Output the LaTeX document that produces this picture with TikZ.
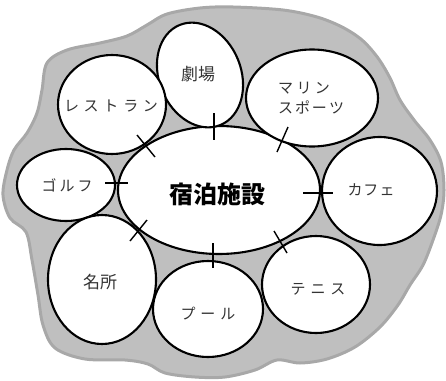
\documentclass[tikz,border=0pt]{standalone}
\usepackage{fontspec}
\newfontfamily\jp{Noto Sans CJK JP}
\usetikzlibrary{shapes.geometric}
\newcommand\kk[1]{\kern#1pt}
\tikzset{
  bubble/.style={ellipse, draw=black, line width=2.1pt, fill=white, inner sep=0pt},
  kanjilabel/.style={font=\jp\fontsize{17}{20}\selectfont, text=black!80, inner sep=0pt},
  kanalabel/.style={font=\jp\fontsize{15}{20}\selectfont, text=black!80, inner sep=0pt},
  tickmark/.style={line width=1.4pt, black},
  blob/.style={fill=gray!50, draw=gray!68, line width=3pt},
}
\begin{document}
\begin{tikzpicture}[x=1pt,y=-1pt]
\useasboundingbox (0,0) rectangle (446,380);
% grey background blob
\path[blob] plot[smooth cycle, tension=0.55] coordinates {
 (47,63) (67,50) (100,43) (127,36) (147,25) (167,14) (200,8) (233,7) (283,10)
 (317,17) (342,27) (362,40) (378,58) (390,78) (400,100) (414,120) (430,140)
 (441,162) (444,190) (441,215) (433,240) (423,265) (410,285) (398,305) (380,327)
 (355,347) (327,359) (300,363) (277,360) (255,370) (225,377) (195,377) (165,373)
 (148,364) (125,360) (85,359) (55,348) (43,325) (38,295) (32,260) (26,232)
 (10,218) (3,195) (7,170) (14,150) (27,133) (37,113) (42,90)};
% ellipses
\node[bubble, minimum width=202pt, minimum height=128pt] (hotel) at (219,190) {};
\node[bubble, minimum width=82pt, minimum height=108pt, rotate=22] (theater) at (200,75) {};
\node[bubble, minimum width=108pt, minimum height=99pt] (restaurant) at (112,104.5) {};
\node[bubble, minimum width=132pt, minimum height=97pt] (marine) at (312,98) {};
\node[bubble, minimum width=98pt, minimum height=72pt] (golf) at (66,185) {};
\node[bubble, minimum width=115pt, minimum height=108pt] (cafe) at (379.5,191) {};
\node[bubble, minimum width=108pt, minimum height=129pt] (sight) at (102,279.5) {};
\node[bubble, minimum width=110pt, minimum height=96pt] (pool) at (208,309) {};
\node[bubble, minimum width=108pt, minimum height=97pt] (tennis) at (316,284.5) {};
% labels
\node[font=\jp\bfseries\fontsize{24}{26}\selectfont, inner sep=0pt] (hotel-t) at (217,194) {宿泊施設};
\node[kanjilabel] (theater-t) at (198,74) {劇場};
\node[kanalabel] (restaurant-t) at (111,106) {レ\kk{4.75}ス\kk{4.75}ト\kk{4.75}ラ\kk{4.75}ン};
\node[kanalabel, align=left] (marine-t) at (311,98) {マ\kk{3.5}リ\kk{3.5}ン\\ス\kk{2}ポ\kk{2}ー\kk{2}ツ};
\node[kanalabel] (golf-t) at (67,185) {ゴ\kk{3}ル\kk{3}フ};
\node[kanalabel] (cafe-t) at (371,190) {カ\kk{1}フ\kk{1}ェ};
\node[kanjilabel] (sight-t) at (100,282) {名所};
\node[kanalabel] (pool-t) at (208,314) {プ\kk{5}ー\kk{5}ル};
\node[kanalabel] (tennis-t) at (318,289) {テ\kk{5}ニ\kk{5}ス};
% tick marks at the points of contact
\draw[tickmark] (214,113) -- (214,140);
\draw[tickmark] (137,135) -- (155,157);
\draw[tickmark] (288,127) -- (277,152);
\draw[tickmark] (105,183) -- (128,183);
\draw[tickmark] (303,193) -- (333,193);
\draw[tickmark] (147,220) -- (130,241);
\draw[tickmark] (213,243) -- (213,268);
\draw[tickmark] (274,231) -- (287,253);
\end{tikzpicture}
\end{document}
